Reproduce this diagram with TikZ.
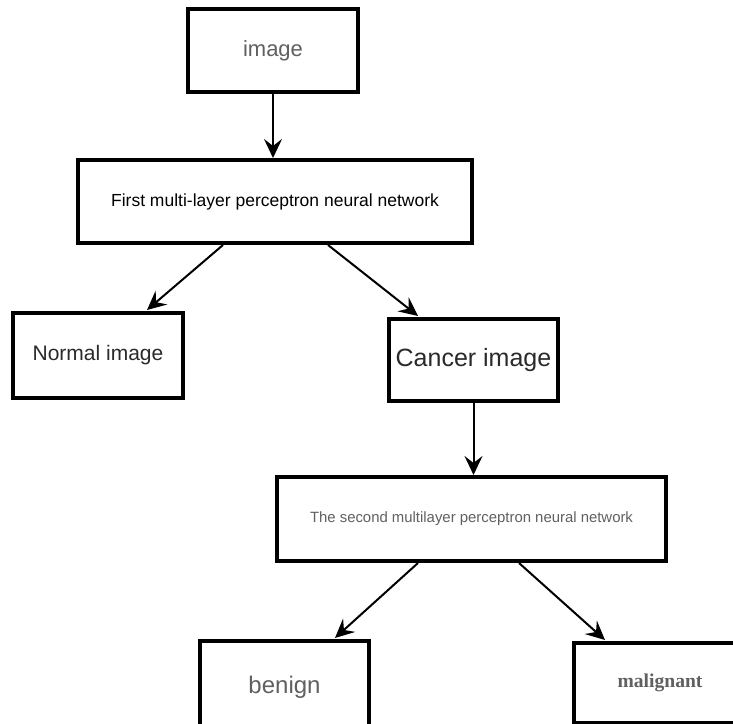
\documentclass[tikz,border=0pt]{standalone}
\usepackage{fontspec}
\setmainfont{Liberation Sans}
\newfontfamily\serifbold{Liberation Serif}
\usetikzlibrary{arrows.meta}
\definecolor{txtgray}{HTML}{606060}
\definecolor{txtdark}{HTML}{2A2A2A}
\tikzset{
  boxnode/.style={draw=black, line width=4pt, fill=white, inner sep=0pt, anchor=center},
  arr/.style={line width=2pt, -{Stealth[length=19pt, width=18pt, inset=7pt]}},
}
\begin{document}
\begin{tikzpicture}[x=1pt, y=1pt]
\useasboundingbox (0,0) rectangle (733,723);
\clip (0,0) rectangle (733,723);
\fill[white] (0,0) rectangle (733,723);
% nodes (y measured from top: y_tikz = 723 - y)
\node[boxnode, minimum width=170pt, minimum height=83pt, text=txtgray, font=\fontsize{22}{26}\selectfont] (img) at (273, 672) {image};
\node[boxnode, minimum width=394pt, minimum height=83pt, text=black, font=\fontsize{17.5}{21}\selectfont] (first) at (275, 521.5) {First multi-layer perceptron neural network};
\node[boxnode, minimum width=170pt, minimum height=85pt, text=txtdark, font=\fontsize{21}{25}\selectfont] (normal) at (98, 367.5) {Normal image};
\node[boxnode, minimum width=169pt, minimum height=82pt, text=txtdark, font=\fontsize{25}{29}\selectfont] (cancer) at (473.5, 363) {Cancer image};
\node[boxnode, minimum width=389pt, minimum height=84pt, text=txtgray, font=\fontsize{14.9}{18}\selectfont] (second) at (471.5, 204) {The second multilayer perceptron neural network};
\node[boxnode, minimum width=169pt, minimum height=92pt, text=txtgray, font=\fontsize{24}{28}\selectfont] (benign) at (284.5, 36) {benign};
\node[boxnode, minimum width=172pt, minimum height=80pt, text=txtgray, font=\serifbold\bfseries\fontsize{19.6}{23}\selectfont] (malig) at (660, 40) {malignant};
% connectors
\draw[arr] (img.south) -- (img.south |- first.north);
\draw[arr] ([xshift=-52pt]first.south) -- ([xshift=49pt, yshift=1pt]normal.north);
\draw[arr] ([xshift=53pt]first.south) -- ([xshift=-55.5pt, yshift=1pt]cancer.north);
\draw[arr] (cancer.south) -- (cancer.south |- second.north);
\draw[arr] ([xshift=-53.5pt]second.south) -- ([xshift=50.5pt, yshift=1pt]benign.north);
\draw[arr] ([xshift=47.5pt]second.south) -- ([xshift=-55pt, yshift=1pt]malig.north);
\end{tikzpicture}
\end{document}
